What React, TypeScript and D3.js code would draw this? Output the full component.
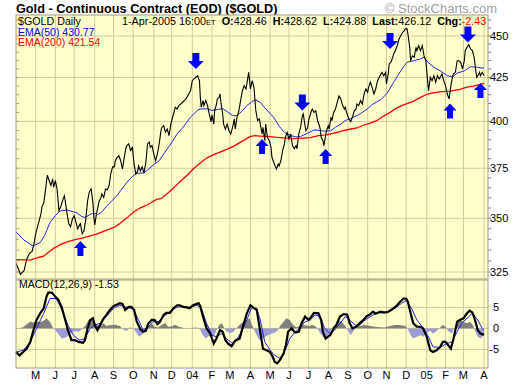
import React from "react";
import * as d3 from "d3";

// ---- data (session number = weekday count from 1-Apr-2003) ----
const goldClose: [number, number][] = [
  [0, 329], [5, 324], [9, 325.6], [12, 330.8], [15, 333.5], [18, 334.4], [20, 337.8], [22, 342.6],
  [24, 345.9], [26, 349], [28, 352.4], [29, 355.6], [31, 357.4], [33, 364], [35, 371.4], [37, 368.7],
  [39, 366.2], [41, 369.5], [42, 365.3], [44, 368.7], [46, 364], [48, 353.7], [50, 355.6], [52, 358.5],
  [54, 361], [55, 358.5], [57, 352.4], [59, 347.4], [61, 345.9], [63, 349.6], [65, 351.2], [67, 348],
  [69, 344.9], [70, 345.9], [72, 347.4], [74, 342.6], [76, 344], [78, 349.6], [80, 358.5], [82, 363.1],
  [84, 364.4], [86, 357.4], [87, 350.3], [88, 346.8], [90, 352.4], [93, 358.5], [95, 360.2], [96, 361.9],
  [98, 360.2], [100, 364.4], [102, 364], [104, 366.2], [106, 372.3], [108, 375.7], [110, 375.7], [111, 378.9],
  [113, 380.7], [115, 381.5], [117, 378.9], [119, 374.6], [121, 380.7], [123, 386], [124, 386.9], [126, 387.8],
  [128, 384.3], [130, 386], [132, 377.1], [134, 372], [136, 373.6], [137, 376.2], [139, 373.6], [141, 375.7],
  [143, 372.6], [145, 377.6], [147, 387.8], [149, 388.7], [150, 386], [152, 386.9], [154, 382.4], [156, 378.9],
  [158, 382.4], [160, 387.8], [162, 394.9], [163, 396.7], [165, 397.6], [167, 394], [169, 395.8], [171, 392.2],
  [173, 398.5], [175, 402.3], [177, 405.9], [178, 407.9], [180, 406.9], [182, 408.8], [184, 409.7], [186, 410.7],
  [188, 411.6], [190, 412.6], [191, 413.5], [193, 415.4], [195, 417.3], [197, 423.1], [199, 424.1], [201, 425.1],
  [203, 426], [205, 423.1], [206, 413.5], [207, 407.9], [209, 411.6], [210, 408.8], [212, 411.6], [214, 408.8],
  [216, 404.1], [218, 399.8], [219, 403.6], [221, 398.5], [222, 405.9], [224, 409.7], [225, 412.6], [227, 413.5],
  [228, 415.4], [229, 410.7], [231, 404.1], [232, 398.5], [234, 395.8], [236, 398.5], [238, 394.9], [240, 393.1],
  [242, 396.7], [244, 401.4], [245, 395.8], [247, 402.3], [249, 405.9], [251, 411.6], [253, 417.3], [255, 420.2],
  [257, 418.3], [258, 421.2], [260, 428], [262, 418.3], [264, 423.1], [266, 419], [268, 406], [270, 400.4],
  [272, 401.4], [273, 398.5], [275, 393.1], [276, 396.7], [278, 389.5], [279, 398.5], [281, 391.3], [283, 389.5],
  [285, 386], [286, 380.7], [288, 378.1], [290, 375.7], [291, 374.6], [293, 377.1], [294, 376.2], [296, 378.9],
  [298, 384.3], [300, 387.8], [301, 391.3], [303, 394], [305, 390.4], [307, 393.1], [309, 386.9], [311, 385.2],
  [313, 386.9], [314, 385.2], [316, 393.1], [318, 396.7], [320, 403], [321, 404.1], [323, 397.6], [324, 394.9],
  [326, 396.7], [327, 400.4], [329, 404.1], [331, 406.9], [333, 405], [335, 405.9], [337, 400.4], [339, 397.6],
  [340, 395.8], [341, 391.3], [343, 389.5], [344, 386.9], [346, 392.2], [347, 394.9], [349, 397.6], [350, 395.8],
  [352, 402.3], [353, 400.4], [355, 405], [357, 406.9], [359, 410.7], [361, 414.3], [363, 412.6], [365, 408.8],
  [367, 406.9], [368, 407.9], [370, 404.1], [372, 401.4], [374, 399.8], [376, 402.3], [378, 405.9], [380, 406.9],
  [381, 409.7], [383, 408.8], [385, 411.6], [387, 409.7], [389, 415.4], [391, 418.3], [393, 416.4], [394, 419.2],
  [396, 422.2], [398, 419.2], [400, 415.4], [402, 418.3], [404, 423.1], [406, 425.1], [408, 427.1], [409, 428],
  [411, 426], [413, 428], [414, 421.2], [416, 427.1], [417, 433], [419, 434], [421, 437], [422, 439],
  [424, 441], [426, 444], [428, 448.1], [430, 450.2], [432, 452.3], [434, 453.3], [435, 454.4], [437, 454.4],
  [438, 451.2], [440, 443], [441, 434.9], [443, 437.8], [445, 437], [447, 443], [448, 441], [450, 444],
  [452, 441], [454, 444], [456, 437.8], [458, 434.9], [460, 423.1], [461, 417.3], [463, 425.1], [465, 423.1],
  [467, 426], [469, 422.2], [471, 426], [473, 424.1], [475, 426], [476, 427.1], [478, 423.1], [480, 420.2],
  [482, 415.4], [484, 412.6], [486, 420.2], [488, 426], [489, 427.1], [491, 428], [493, 434.9], [495, 434.9],
  [497, 434], [499, 430], [501, 434.9], [502, 441], [504, 443], [506, 444.6], [508, 442], [510, 441],
  [512, 437], [514, 428], [515, 425.1], [516, 426], [518, 428], [519, 426], [521, 428], [523, 426.12],
];

const ema50: [number, number][] = [
  [0, 343.5], [9, 339.6], [19, 336.9], [27, 338.5], [32, 341.8], [38, 348], [44, 351.3], [49, 353.5],
  [57, 354], [63, 353.3], [68, 352.7], [73, 351], [77, 350.4], [82, 351.6], [86, 352.5], [92, 351.9],
  [96, 353.1], [101, 355.8], [106, 358], [113, 361.2], [117, 363.7], [124, 367.8], [129, 370.3], [134, 372.3],
  [143, 372.6], [147, 374.1], [154, 376.9], [160, 378.9], [165, 382.4], [173, 387.8], [180, 393.1], [188, 397.6],
  [195, 402.3], [203, 406.3], [206, 406.9], [214, 407], [219, 406.1], [225, 406.6], [231, 407.1], [236, 405.5],
  [242, 403.2], [247, 403.2], [253, 405.9], [258, 408.8], [264, 411.2], [268, 412], [273, 410.6], [281, 405.9],
  [288, 402.2], [294, 397.4], [300, 394], [307, 392.3], [313, 391.5], [318, 391.8], [326, 393.6], [333, 395.3],
  [341, 395], [346, 394.6], [352, 394.9], [357, 396.8], [363, 398.5], [368, 400.5], [374, 401.6], [380, 403],
  [385, 404.3], [393, 407.1], [398, 409.4], [403, 410.8], [408, 412.3], [415, 416], [422, 422.2], [430, 428.9],
  [437, 434], [445, 435], [452, 436], [456, 437], [460, 434.2], [467, 431], [475, 428.6], [482, 426],
  [488, 425.4], [493, 427.5], [501, 428.9], [508, 431.3], [516, 431], [521, 430.5], [523, 430.77],
];

const ema200: [number, number][] = [
  [0, 330.6], [9, 330.5], [16, 330.4], [26, 331.7], [31, 332.2], [35, 333.5], [42, 335.8], [49, 337.4],
  [57, 338.8], [66, 339.8], [75, 340.7], [83, 341.6], [90, 342.4], [100, 344.1], [109, 345.5], [116, 347.5],
  [124, 350.2], [131, 352.9], [139, 355.1], [147, 356.6], [157, 359.2], [162, 359.6], [168, 361.7], [176, 364.9],
  [183, 368], [191, 371.3], [198, 374.6], [206, 377.7], [213, 380.3], [221, 382.1], [228, 383.4], [236, 385],
  [243, 386.5], [250, 388.5], [256, 390.1], [262, 391.8], [267, 392.2], [273, 392], [284, 391.7], [295, 391.2],
  [310, 390.6], [321, 390.9], [329, 391.2], [338, 392.2], [347, 392.7], [357, 393.8], [366, 394.9], [373, 395.7],
  [381, 396.4], [388, 397.9], [396, 399.1], [403, 400.4], [410, 402.7], [418, 405], [425, 407.4], [433, 409.2],
  [444, 411.2], [452, 413.5], [460, 415.4], [466, 416], [474, 416.6], [485, 417.1], [496, 418], [504, 419.3],
  [511, 420], [520, 421.1], [523, 421.54],
];

const macdLine: [number, number][] = [
  [0, -5.6], [4, -6.4], [8, -5.6], [12, -4.8], [16, -3.2], [19, -0.8], [23, 2], [27, 3.6],
  [31, 4.8], [34, 7.5], [36, 8.5], [40, 8.5], [44, 7.5], [47, 6.9], [51, 5.1], [55, 2],
  [58, -0.4], [62, -2.8], [66, -2.8], [70, -3.2], [75, -3.4], [77, -2.8], [80, 0], [83, 2],
  [86, 2.4], [88, 0.8], [91, -0.4], [94, 0.8], [98, 2.4], [101, 3.2], [105, 4.4], [109, 5.3],
  [113, 5.7], [116, 6], [119, 5.8], [122, 4.4], [126, 5.1], [129, 5.1], [132, 4.4], [135, 1.6],
  [139, -0.2], [142, -0.8], [145, -0.6], [148, 1.2], [152, 2.1], [155, 2], [158, 1], [161, 1.6],
  [165, 3.2], [168, 3.7], [172, 3.7], [176, 4.8], [180, 5.5], [183, 5.5], [187, 5.1], [191, 5],
  [194, 4.8], [198, 5.5], [204, 6], [206, 5.2], [209, 2.8], [213, 0], [217, -1.2], [221, -3.6],
  [224, -2.4], [228, -0.4], [231, -0.8], [234, -2.8], [237, -3.6], [241, -4.2], [245, -2.9], [250, -2.4],
  [253, 0], [258, 3.6], [262, 5.5], [266, 4.8], [269, 4.4], [272, 0.5], [276, -4.8], [280, -5.2],
  [284, -5.6], [287, -6.8], [289, -7.9], [292, -8.3], [295, -7.5], [299, -6], [302, -3.6], [304, -0.8],
  [308, 0], [312, -1], [316, -0.8], [319, 1.2], [323, 2.8], [327, 2], [330, 2.8], [333, 3.7],
  [338, 3.6], [341, 2], [343, -0.8], [346, -2.4], [351, -1.6], [355, 0], [358, 0.8], [362, 2.8],
  [366, 3.4], [370, 3.3], [373, 1.2], [376, 0], [381, 0.5], [384, 1.2], [388, 2], [392, 2.9],
  [396, 3.4], [399, 4], [402, 3.5], [407, 4], [411, 3.8], [414, 3.8], [418, 4.2], [422, 4.8],
  [425, 5.3], [429, 6.3], [433, 7.1], [436, 7.1], [438, 6.3], [441, 3.6], [444, 1.2], [448, 0.4],
  [452, 0.4], [455, 0], [459, -2], [463, -5.2], [466, -5.6], [470, -5.2], [474, -4.4], [477, -3.2],
  [480, -3.2], [483, -4], [486, -4.8], [489, -2.4], [493, 1.6], [496, 2], [500, 2.4], [504, 3.6],
  [507, 4.2], [510, 3.8], [513, 2], [516, -0.4], [519, -1.2], [523, -1.53],
];

const macdSignal: [number, number][] = [
  [0, -5.6], [8, -5.2], [16, -3.2], [23, 0], [31, 3.6], [38, 7.1], [44, 7.1], [47, 6.3],
  [53, 3.6], [58, 0.8], [64, -1.6], [71, -2.8], [77, -2.4], [83, 0], [88, 0.8], [94, 1.2],
  [101, 2.8], [109, 4.8], [116, 5.5], [124, 5], [131, 4.6], [137, 2], [142, -0.4], [148, 0.4],
  [153, 1.6], [159, 1.6], [165, 2.8], [172, 4], [180, 5.1], [187, 5.1], [194, 5], [202, 5.5],
  [207, 4.8], [213, 1.2], [219, -1.6], [224, -2], [230, -1.2], [235, -2.4], [241, -3.4], [246, -2.8],
  [252, -0.8], [258, 2], [263, 4.8], [269, 4.8], [273, 2], [278, -3.2], [284, -5.2], [289, -6.4],
  [295, -7.1], [301, -5.2], [306, -2.4], [312, -0.8], [317, 0], [323, 1.6], [329, 2], [334, 3.2],
  [340, 2.8], [345, 0], [351, -1.2], [356, -0.4], [362, 1.2], [368, 2.8], [373, 2], [379, 0.8],
  [384, 0.8], [390, 2], [396, 2.8], [403, 3.7], [411, 3.7], [418, 4.1], [425, 5], [431, 6],
  [436, 6.6], [442, 4.8], [448, 2], [455, 0.2], [461, -2], [466, -4.4], [474, -4.5], [481, -3.6],
  [487, -3.2], [493, -0.8], [498, 1.2], [504, 2.4], [510, 3.6], [516, 2], [521, 0], [523, -0.4],
];

const macdHist: [number, number][] = [
  [0, -0.2], [8, 0.3], [12, 1], [16, 1.6], [19, 1.4], [23, 1.6], [27, 1.5], [31, 1.8],
  [34, 2.4], [38, 1.5], [41, 0.3], [44, -0.5], [47, -1.2], [51, -2.4], [55, -2.2], [58, -1.8],
  [62, -1], [66, -0.6], [70, -0.8], [73, -0.3], [77, 0.5], [81, 2], [84, 2.4], [86, 1.6],
  [90, 0.8], [94, 0.6], [98, 1.2], [101, 0.6], [105, 0.8], [111, 0.9], [116, 0.6], [120, -0.3],
  [124, -0.6], [127, 0.2], [131, 0.1], [135, -1.2], [138, -2], [142, -1.2], [145, -0.3], [148, 0.6],
  [152, 1.1], [155, 0.4], [159, 0.2], [163, 0.9], [167, 1.2], [170, 0.4], [174, 0.5], [178, 0.9],
  [182, 0.4], [185, 0.2], [191, 0], [196, 0.1], [202, 0.2], [206, -0.4], [209, -1.6], [212, -2.4],
  [216, -1.8], [221, -1.8], [224, -0.5], [227, 0.8], [230, 1.2], [232, 0.4], [235, -0.6], [239, -1.2],
  [243, -0.8], [246, 0], [250, 0.9], [254, 1.6], [258, 2], [261, 2.4], [263, 1.2], [266, -0.3],
  [269, -1.6], [272, -2.8], [276, -2.4], [280, -1.8], [284, -1.4], [289, -1], [293, -0.4], [295, 0.6],
  [299, 1.6], [302, 2.4], [306, 2], [309, 1], [313, 0.3], [317, 0.6], [321, 0.8], [327, 0.6],
  [332, 0.8], [336, 0.2], [339, -0.8], [343, -2], [346, -2.4], [350, -1.2], [354, 0.3], [358, 1],
  [361, 1.8], [364, 1.6], [368, 0.6], [371, -0.6], [374, -1.6], [377, -0.6], [381, 0.3], [384, 0.6],
  [390, 0.8], [396, 0.6], [401, 0.4], [407, 0.3], [412, 0.2], [418, 0.6], [423, 0.8], [429, 0.8],
  [435, 0.6], [438, -0.2], [441, -1.6], [444, -2.4], [448, -2], [452, -1.6], [455, -2], [459, -1],
  [463, -0.6], [466, -1.2], [470, -0.6], [474, 0.2], [477, 0.8], [480, 0.4], [483, -0.6], [487, -1.2],
  [489, -0.2], [493, 1.2], [496, 2], [500, 1.6], [504, 1.2], [507, 1.6], [510, 1], [513, -0.6],
  [516, -2], [519, -2.4], [522, -1.8], [523, -1.2],
];

// blue arrows: [session, price at tip, direction]
const arrowMarks: [number, number, "up" | "down"][] = [
  [72, 339.2, "up"], [201, 430, "down"], [275, 390.4, "up"], [320, 406.1, "down"], [346, 385.1, "up"],
  [418, 442, "down"], [485, 410, "up"], [505, 446, "down"], [519, 421.8, "up"],
];

const priceTicks = [325, 350, 375, 400, 425, 450];
const macdTicks = [-5, 0, 5];
const monthLetters = ["J", "F", "M", "A", "M", "J", "J", "A", "S", "O", "N", "D"];

const chartTitle = "Gold - Continuous Contract (EOD) ($GOLD)";
const quote = { date: "1-Apr-2005 16:00", open: "428.46", high: "428.62", low: "424.88", last: "426.12", chg: "-2.43" };
const emaFast = "430.77";
const emaSlow = "421.54";
const macdLast = "-1.53";

// weekday sessions 1-Apr-2003 .. 1-Apr-2005
const sessions: Date[] = [];
for (let d = new Date(2003, 3, 1); d <= new Date(2005, 3, 1); d.setDate(d.getDate() + 1)) {
  if (d.getDay() % 6 !== 0) sessions.push(new Date(d));
}
const monthStarts = sessions
  .map((d, i) => ({ d, i }))
  .filter(({ d, i }) => i > 0 && d.getMonth() !== sessions[i - 1].getMonth());

const L = 16, R = 488;
const mainTop = 15, mainBot = 279;
const macdTop = 280, macdBot = 368;

const font = "'Liberation Sans', Arial, sans-serif";
const bg = "#ffffcc";
const gridColor = "#d2c99c";

export default function App() {
  const x = d3.scaleLinear().domain([0, sessions.length - 1]).range([L, 484]);
  const y = d3.scaleLog().domain([321.9, 463.2]).range([mainBot, mainTop]);
  const ym = d3.scaleLinear().domain([-9.4, 11.5]).range([macdBot, macdTop]);

  const priceLine = d3.line<[number, number]>().x((d) => x(d[0])).y((d) => y(d[1]));
  const macdPath = d3.line<[number, number]>().x((d) => x(d[0])).y((d) => ym(d[1]));
  const histArea = d3
    .area<[number, number]>()
    .x((d) => x(d[0]))
    .y0(ym(0))
    .y1((d) => ym(d[1]));

  const minorPrice = d3.range(325, 465, 5);

  const arrowPath = (dir: "up" | "down") =>
    dir === "down"
      ? "M-3.5,-16L3.5,-16L3.5,-8L8,-8L0,0L-8,-8L-3.5,-8Z"
      : "M0,0L6.5,7L3,7L3,15L-3,15L-3,7L-6.5,7Z";

  return (
    <svg width={520} height={384} style={{ display: "block", position: "absolute", left: 0, top: 0 }}>
      <rect width={520} height={384} fill="#fff" />
      <defs>
        <clipPath id="mainClip">
          <rect x={L} y={mainTop} width={R - L} height={mainBot - mainTop} />
        </clipPath>
        <clipPath id="posClip">
          <rect x={L} y={macdTop} width={R - L} height={ym(0) - macdTop} />
        </clipPath>
        <clipPath id="negClip">
          <rect x={L} y={ym(0)} width={R - L} height={macdBot - ym(0)} />
        </clipPath>
      </defs>

      {/* title */}
      <text x={16} y={12.5} fontFamily={font} fontWeight="bold" fontSize={12.7} fill="#000">
        {chartTitle}
      </text>
      <text x={497} y={13} fontFamily={font} fontSize={13} fill="#a0a0a0" textAnchor="end">
        © StockCharts.com
      </text>

      {/* main panel */}
      <rect x={L} y={mainTop} width={R - L} height={mainBot - mainTop} fill={bg} />
      {monthStarts.map(({ i }) => (
        <line key={i} x1={x(i)} x2={x(i)} y1={mainTop} y2={mainBot} stroke={gridColor} strokeWidth={1} />
      ))}
      {priceTicks.map((p) => (
        <line key={p} x1={L} x2={R} y1={y(p)} y2={y(p)} stroke={gridColor} strokeWidth={1} />
      ))}
      {minorPrice.map((p) => (
        <g key={p}>
          <line x1={L} x2={L + 3} y1={y(p)} y2={y(p)} stroke="#a8a080" />
          <line x1={R} x2={R + 3} y1={y(p)} y2={y(p)} stroke="#808080" />
        </g>
      ))}
      <g clipPath="url(#mainClip)">
        <path d={priceLine(ema200) || ""} fill="none" stroke="#ff0000" strokeWidth={1.3} />
        <path d={priceLine(ema50) || ""} fill="none" stroke="#2222dd" strokeWidth={1} />
        <path d={priceLine(goldClose) || ""} fill="none" stroke="#000" strokeWidth={1.1} />
      </g>
      {arrowMarks.map(([s, p, dir], k) => (
        <path key={k} d={arrowPath(dir)} transform={`translate(${x(s)},${y(p)})`} fill="#0000ff" />
      ))}
      <rect x={L} y={mainTop} width={R - L} height={mainBot - mainTop} fill="none" stroke="#a09a80" />

      {/* header texts */}
      <text x={18} y={25} fontFamily={font} fontSize={10.7} fill="#000">$GOLD Daily</text>
      <text x={18} y={35.5} fontFamily={font} fontSize={10.5} fill="#0000ff">EMA(50) {emaFast}</text>
      <text x={18} y={46} fontFamily={font} fontSize={10.5} fill="#ff0000">EMA(200) {emaSlow}</text>
      <text x={122} y={25} fontFamily={font} fontSize={10.8} fill="#000">
        <tspan>{quote.date}</tspan>
        <tspan fontSize={7.5}>ET</tspan>
        <tspan dx={6} fontWeight="bold">O:</tspan>
        <tspan>{quote.open}</tspan>
        <tspan dx={6} fontWeight="bold">H:</tspan>
        <tspan>{quote.high}</tspan>
        <tspan dx={6} fontWeight="bold">L:</tspan>
        <tspan>{quote.low}</tspan>
        <tspan dx={6} fontWeight="bold">Last:</tspan>
        <tspan>{quote.last}</tspan>
        <tspan dx={6} fontWeight="bold">Chg:</tspan>
        <tspan fill="#ff0000">{quote.chg}</tspan>
      </text>

      {/* price axis labels */}
      {priceTicks.map((p) => (
        <text key={p} x={490} y={y(p) + 4} fontFamily={font} fontSize={11} fill="#000">
          {p}
        </text>
      ))}

      {/* MACD panel */}
      <rect x={L} y={macdTop} width={R - L} height={macdBot - macdTop} fill={bg} />
      {monthStarts.map(({ i }) => (
        <line key={i} x1={x(i)} x2={x(i)} y1={macdTop} y2={macdBot} stroke={gridColor} strokeWidth={1} />
      ))}
      {macdTicks.map((v) => (
        <line key={v} x1={L} x2={R} y1={ym(v)} y2={ym(v)} stroke={gridColor} strokeWidth={1} />
      ))}
      <path d={histArea(macdHist) || ""} fill="#808080" clipPath="url(#posClip)" />
      <path d={histArea(macdHist) || ""} fill="#9c9cd8" clipPath="url(#negClip)" />
      <path d={macdPath(macdSignal) || ""} fill="none" stroke="#2222dd" strokeWidth={1} />
      <path d={macdPath(macdLine) || ""} fill="none" stroke="#000" strokeWidth={2.2} />
      <rect x={L} y={macdTop} width={R - L} height={macdBot - macdTop} fill="none" stroke="#a09a80" />
      <text x={19} y={288} fontFamily={font} fontSize={10.5} fill="#000">
        MACD(12,26,9) {macdLast}
      </text>
      {macdTicks.map((v) => (
        <text key={v} x={499} y={ym(v) + 4} fontFamily={font} fontSize={11} fill="#000" textAnchor="end">
          {v}
        </text>
      ))}

      {/* month labels */}
      {monthStarts.map(({ d, i }) => (
        <text key={i} x={x(i)} y={378.5} fontFamily={font} fontSize={11} fill="#000" textAnchor="middle">
          {d.getMonth() === 0 ? String(d.getFullYear()).slice(2) : monthLetters[d.getMonth()]}
        </text>
      ))}
    </svg>
  );
}
